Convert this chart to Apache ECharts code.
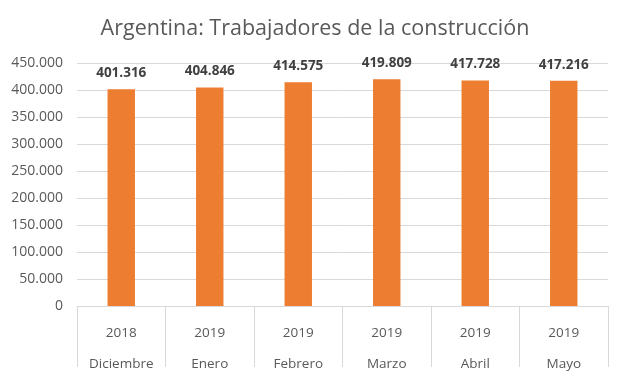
<!DOCTYPE html>
<html><head><meta charset="utf-8">
<script src="https://cdn.jsdelivr.net/npm/echarts@6/dist/echarts.min.js"></script>
<style>html,body{margin:0;padding:0;background:#fff}#c{width:630px;height:380px}</style>
</head><body><div id="c"></div>
<script>
const years = ['2018','2019','2019','2019','2019','2019'];
const months = ['Diciembre','Enero','Febrero','Marzo','Abril','Mayo'];
const values = [401316, 404846, 414575, 419809, 417728, 417216];
const yTicks = {min:0, max:450000, interval:50000};

const fmt = v => v === 0 ? '0' : (v/1000).toFixed(3);
const cats = years.map((y,i)=> y + '|' + months[i]);
const chart = echarts.init(document.getElementById('c'), null, {renderer:'canvas'});
chart.setOption({
  animation:false,
  title:{text:'Argentina: Trabajadores de la construcción', left:'center', top:13,
    textStyle:{fontFamily:'Open Sans', fontSize:21.5, fontWeight:'normal', color:'#595959'}},
  grid:{left:77, right:22, top:63, bottom:69},
  xAxis:{type:'category', data:cats,
    axisLine:{lineStyle:{color:'#D9D9D9'}},
    axisTick:{show:true, length:61, lineStyle:{color:'#D9D9D9'}},
    axisLabel:{margin:12, interval:0,
      formatter: v => { const p=v.split('|'); return '{a|'+p[0]+'}\n{b|'+p[1]+'}'; },
      rich:{a:{fontFamily:'Open Sans', fontSize:13.5, color:'#595959', lineHeight:31, height:31},
            b:{fontFamily:'Open Sans', fontSize:13.5, color:'#595959', lineHeight:31, height:31}}}},
  yAxis:{type:'value', min:yTicks.min, max:yTicks.max, interval:yTicks.interval,
    axisLine:{show:false}, axisTick:{show:false},
    splitLine:{lineStyle:{color:'#D9D9D9'}},
    axisLabel:{formatter:fmt, fontFamily:'Open Sans', fontSize:14, color:'#595959', margin:14}},
  series:[{type:'bar', data:values, barWidth:'31%', itemStyle:{color:'#ED7D31'},
    label:{show:true, position:'top', distance:9, formatter:p=>fmt(p.value),
      fontFamily:'Open Sans', fontWeight:'bold', fontSize:13.5, color:'#404040'}}]
});
</script></body></html>
